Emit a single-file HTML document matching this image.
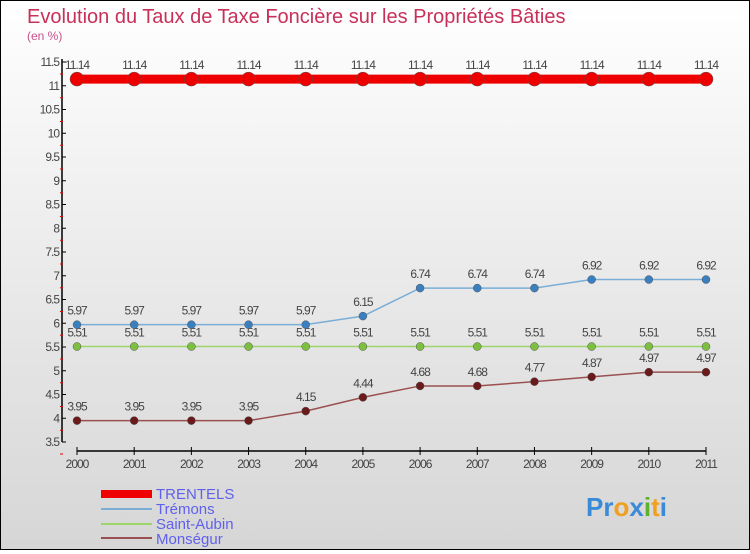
<!DOCTYPE html>
<html><head><meta charset="utf-8"><style>
body{margin:0;width:750px;height:550px;overflow:hidden;font-family:"Liberation Sans",sans-serif}
#c{position:absolute;left:0;top:0;width:748px;height:548px;border:1px solid #000;background:linear-gradient(#fff 0%,#f2f2f2 30%,#d6d6d6 100%)}
</style></head><body>
<div id="c">
<svg width="748" height="548" id="svg">
<text x="26" y="22" font-size="20" fill="#c8305a">Evolution du Taux de Taxe Foncière sur les Propriétés Bâties</text>
<text x="26" y="39" font-size="12" fill="#c8508a">(en %)</text>
<g id="axes"></g><g id="series"></g>
<g>
<rect x="100" y="489" width="51" height="8" fill="#e00"/>
<line x1="100" y1="508" x2="151" y2="508" stroke="#7aaed6" stroke-width="2"/>
<line x1="100" y1="523" x2="151" y2="523" stroke="#9cd66a" stroke-width="2"/>
<line x1="100" y1="537" x2="151" y2="537" stroke="#9a5050" stroke-width="2"/>
<g font-size="15" fill="#6060ee">
<text x="155" y="498">TRENTELS</text>
<text x="155" y="513">Trémons</text>
<text x="155" y="528">Saint-Aubin</text>
<text x="155" y="543">Monségur</text>
</g></g>
<text x="585" y="515" font-size="26" font-weight="bold"><tspan fill="#3a8ad8">Pr</tspan><tspan fill="#f0a020">o</tspan><tspan fill="#3a8ad8">x</tspan><tspan fill="#60b030">i</tspan><tspan fill="#f0a020">t</tspan><tspan fill="#3a8ad8">i</tspan></text>
</svg></div>
<script>
const years=[2000,2001,2002,2003,2004,2005,2006,2007,2008,2009,2010,2011];
const yTicks=[3.5,4,4.5,5,5.5,6,6.5,7,7.5,8,8.5,9,9.5,10,10.5,11,11.5];
const trentels=[11.14,11.14,11.14,11.14,11.14,11.14,11.14,11.14,11.14,11.14,11.14,11.14];
const tremons=[5.97,5.97,5.97,5.97,5.97,6.15,6.74,6.74,6.74,6.92,6.92,6.92];
const saintAubin=[5.51,5.51,5.51,5.51,5.51,5.51,5.51,5.51,5.51,5.51,5.51,5.51];
const monsegur=[3.95,3.95,3.95,3.95,4.15,4.44,4.68,4.68,4.77,4.87,4.97,4.97];
const NS="http://www.w3.org/2000/svg";
const X=i=>76+i*(705-76)/(years.length-1);
const Y=v=>441-(v-3.5)*47.5;
function mk(p,t,a){const e=document.createElementNS(NS,t);for(const k in a)e.setAttribute(k,a[k]);p.appendChild(e);return e;}
const ax=document.getElementById('axes');
let l=mk(ax,'line',{x1:61,y1:58,x2:61,y2:441,stroke:'#000','stroke-width':1.5});


l=mk(ax,'line',{x1:76,y1:450,x2:705,y2:450,stroke:'#000','stroke-width':1.5});


yTicks.forEach((v,i)=>{
 mk(ax,'line',{x1:61,y1:Y(v),x2:65,y2:Y(v),stroke:'#000'});
 mk(ax,'line',{x1:59,y1:Y(v)+12,x2:62,y2:Y(v)+12,stroke:'#e00'});
 const t=mk(ax,'text',{x:58,y:Y(v)+4,'font-size':12,fill:'#444','text-anchor':'end','letter-spacing':'-1'});
 t.textContent=v;
 
 
});
years.forEach((y,i)=>{
 mk(ax,'line',{x1:X(i),y1:446,x2:X(i),y2:454,stroke:'#000'});
 const t=mk(ax,'text',{x:X(i),y:467,'font-size':12,fill:'#444','text-anchor':'middle','letter-spacing':'-1'});
 t.textContent=y;
 
 
});
const sg=document.getElementById('series');
[[saintAubin,'#9cd66a','#7cc040',1.5,4,'saint-aubin'],[monsegur,'#9a5050','#6a1a1a',1.5,4,'monsegur'],[tremons,'#7aaed6','#3a80c0',1.5,4,'tremons'],[trentels,'#e00','#e00',9,7,'trentels']].forEach(s=>{
 const [d,c,mc,w,r,n]=s;
 const pl=mk(sg,'polyline',{points:d.map((v,i)=>X(i)+','+Y(v)).join(' '),fill:'none',stroke:c,'stroke-width':w});
 
 
 d.forEach((v,i)=>{
  const p=mk(sg,'circle',{cx:X(i),cy:Y(v),r:r,fill:mc,stroke:'#555','stroke-width':0.5});
  
  
  const t=mk(sg,'text',{x:X(i),y:Y(v)-10,'font-size':12,fill:'#444','text-anchor':'middle','letter-spacing':'-1'});
  t.textContent=v;
  
  
 });
});
</script>
</body></html>
